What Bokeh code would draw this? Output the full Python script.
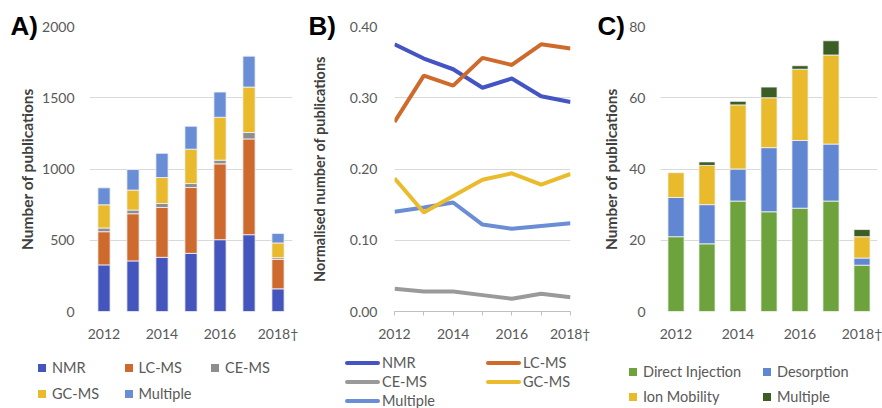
from bokeh.plotting import figure
from bokeh.models import (ColumnDataSource, Range1d, FixedTicker, NumeralTickFormatter,
                          Title, Div)
from bokeh.layouts import row, column
from bokeh.embed import file_html
from bokeh.resources import INLINE

FONT = "Lato"
TXT = "#595959"
AXT = "#404040"
GRID = "#D9D9D9"

years = ["2012", "2013", "2014", "2015", "2016", "2017", "2018†"]
year_nums = [2012, 2013, 2014, 2015, 2016, 2017, 2018]

# Panel A: number of publications per technique
a_nmr = [327, 355, 380, 408, 504, 539, 159]
a_lcms = [233, 331, 350, 462, 532, 672, 207]
a_cems = [26, 26, 28, 28, 26, 45, 12]
a_gcms = [163, 140, 182, 241, 301, 319, 103]
a_multiple = [119, 144, 170, 161, 177, 217, 67]

# Panel B: normalised number of publications
b_nmr = [0.375, 0.355, 0.340, 0.314, 0.327, 0.302, 0.294]
b_lcms = [0.266, 0.331, 0.317, 0.356, 0.346, 0.375, 0.369]
b_cems = [0.032, 0.028, 0.028, 0.023, 0.018, 0.025, 0.020]
b_gcms = [0.187, 0.139, 0.162, 0.185, 0.194, 0.178, 0.193]
b_multiple = [0.140, 0.146, 0.153, 0.122, 0.116, 0.120, 0.124]

# Panel C: direct MS techniques
c_direct = [21, 19, 31, 28, 29, 31, 13]
c_desorption = [11, 11, 9, 18, 19, 16, 2]
c_ion = [7, 11, 18, 14, 20, 25, 6]
c_multiple = [0, 1, 1, 3, 1, 4, 2]

A_NAMES = ["NMR", "LC-MS", "CE-MS", "GC-MS", "Multiple"]
A_COLORS = ["#4555BE", "#CE6A2E", "#8E8E8E", "#E8BA2C", "#6A8ED6"]
B_COLORS = ["#4454C3", "#CE6A2C", "#9A9A9A", "#EBBB2E", "#6A8DD6"]
C_NAMES = ["Direct Injection", "Desorption", "Ion Mobility", "Multiple"]
C_COLORS = ["#6EA23C", "#6186D2", "#E8BA2C", "#3B5E25"]

HT = 344   # chart strip height
HL = 64    # legend strip height
TOP = 26
BOTTOM = HT - 312


def base_fig(width, left, right, y_end):
    p = figure(width=width, height=HT, output_backend="svg", toolbar_location=None,
               min_border_left=left, min_border_right=right,
               min_border_top=TOP, min_border_bottom=BOTTOM,
               y_range=Range1d(0, y_end))
    p.outline_line_color = None
    p.xgrid.grid_line_color = None
    p.ygrid.grid_line_color = GRID
    p.ygrid.grid_line_width = 1
    p.yaxis.axis_line_color = None
    p.yaxis.major_tick_line_color = None
    p.yaxis.minor_tick_line_color = None
    p.yaxis.major_tick_out = 0
    p.yaxis.major_tick_in = 0
    p.xaxis.minor_tick_line_color = None
    for ax in (p.xaxis[0], p.yaxis[0]):
        ax.major_label_text_font = FONT
        ax.major_label_text_font_size = "14px"
        ax.major_label_text_color = TXT
        ax.axis_label_text_font = FONT
        ax.axis_label_text_font_size = "15.5px"
        ax.axis_label_text_font_style = "bold"
        ax.axis_label_text_color = AXT
    p.background_fill_color = None
    p.border_fill_color = None
    return p


def add_panel_title(p, text, offset, standoff):
    p.add_layout(Title(text=text, align="left", vertical_align="bottom", offset=offset,
                       standoff=standoff, text_font="Liberation Sans",
                       text_font_style="bold", text_font_size="26px",
                       text_color="black"), "above")


def bar_xaxis(p, n):
    p.x_range = Range1d(-0.5, n - 0.5)
    p.xaxis.ticker = FixedTicker(ticks=list(range(0, n, 2)))
    p.xaxis.major_label_overrides = {i: years[i] for i in range(0, n, 2)}
    p.xaxis.axis_line_color = None
    p.xaxis.major_tick_line_color = None
    p.xaxis.major_tick_out = 0
    p.xaxis.major_label_standoff = 13


def legend_html(names, colors, ncols, x0, y0, col_pitch, row_pitch, kind):
    parts = []
    for k, (name, col) in enumerate(zip(names, colors)):
        r, c = divmod(k, ncols)
        left = x0 + c * col_pitch
        top = y0 + r * row_pitch - 10
        if kind == "box":
            sw = (f'<span style="display:inline-block;width:8px;height:8px;'
                  f'background:{col};margin-right:6px"></span>')
        else:
            sw = (f'<span style="display:inline-block;width:35px;height:4px;'
                  f'border-radius:2px;background:{col};margin-right:2px"></span>')
        parts.append(f'<div style="position:absolute;left:{left}px;top:{top}px;height:20px;'
                     f'display:flex;align-items:center;white-space:nowrap">{sw}{name}</div>')
    return "".join(parts)


n = len(years)
xs = list(range(n))

# ---------- Panel A ----------
srcA = ColumnDataSource(dict(x=xs, NMR=a_nmr, LCMS=a_lcms, CEMS=a_cems,
                             GCMS=a_gcms, MULT=a_multiple))
pA = base_fig(300, 89, 8, 2000)
bar_xaxis(pA, n)
pA.yaxis.ticker = FixedTicker(ticks=[0, 500, 1000, 1500, 2000])
pA.yaxis.major_label_standoff = 15
pA.yaxis.axis_label = "Number of publications"
pA.yaxis.axis_label_standoff = 3
pA.vbar_stack(["NMR", "LCMS", "CEMS", "GCMS", "MULT"], x="x", width=0.42,
              color=A_COLORS, line_color="#F4F4F8", line_width=0.8, source=srcA)
add_panel_title(pA, "A)", -79, -28)

# ---------- Panel B ----------
pB = base_fig(290, 94, 20, 0.40)
pB.x_range = Range1d(year_nums[0], year_nums[-1])
pB.xaxis.ticker = FixedTicker(ticks=year_nums)
pB.xaxis.major_label_overrides = {yv: (years[i] if i % 2 == 0 else "")
                                  for i, yv in enumerate(year_nums)}
pB.xaxis.axis_line_color = "#BFBFBF"
pB.xaxis.major_tick_line_color = "#BFBFBF"
pB.xaxis.major_tick_out = 4
pB.xaxis.major_tick_in = 0
pB.xaxis.major_label_standoff = 9
pB.yaxis.ticker = FixedTicker(ticks=[0.0, 0.1, 0.2, 0.3, 0.4])
pB.yaxis.formatter = NumeralTickFormatter(format="0.00")
pB.yaxis.major_label_standoff = 17
pB.yaxis.axis_label = "Normalised number of publications"
pB.yaxis.axis_label_text_font_size = "14.5px"
pB.yaxis.axis_label_standoff = 19
b_series = [b_nmr, b_lcms, b_cems, b_gcms, b_multiple]
for i in [2, 4, 3, 0, 1]:
    pB.line(year_nums, b_series[i], line_color=B_COLORS[i], line_width=4)
add_panel_title(pB, "B)", -86, -28)

# ---------- Panel C ----------
srcC = ColumnDataSource(dict(x=xs, DI=c_direct, DES=c_desorption, IM=c_ion, MULT=c_multiple))
pC = base_fig(292, 70, 5, 80)
bar_xaxis(pC, n)
pC.yaxis.ticker = FixedTicker(ticks=[0, 20, 40, 60, 80])
pC.yaxis.major_label_standoff = 15
pC.yaxis.axis_label = "Number of publications"
pC.yaxis.axis_label_standoff = 6
pC.vbar_stack(["DI", "DES", "IM", "MULT"], x="x", width=0.52,
              color=C_COLORS, line_color="#F4F4F8", line_width=0.8, source=srcC)
add_panel_title(pC, "C)", -63, -28)

# ---------- Legends (strip under the charts) ----------
html = (f'<div style="position:relative;width:882px;height:{HL}px;font-family:Lato;'
        f'font-size:14.5px;color:{TXT};line-height:1">'
        + legend_html(A_NAMES, A_COLORS, 3, 38, 24, 86.5, 26, "box")
        + legend_html(A_NAMES, B_COLORS, 2, 345, 19, 141, 19, "line")
        + legend_html(C_NAMES, C_COLORS, 2, 629, 28, 134, 25, "box")
        + '</div>')
leg = Div(text=html, width=882, height=HL, margin=0)

layout = column(row(pA, pB, pC, spacing=0), leg, spacing=0)
open("out.html", "w").write(file_html(layout, INLINE))
